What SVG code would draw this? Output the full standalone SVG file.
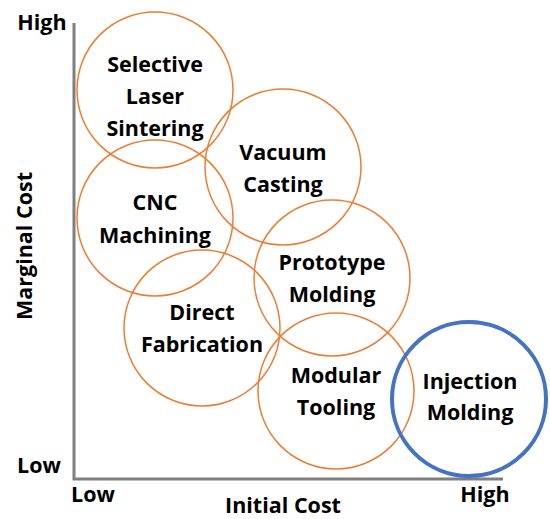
<svg xmlns="http://www.w3.org/2000/svg" width="550" height="519" viewBox="0 0 550 519">
  <style>
    .bubble { fill: none; stroke: #ED7D31; stroke-width: 1.5; }
    .bubble.hl { stroke: #4472C4; stroke-width: 4; }
    .lbl { font-family: "Open Sans", "Liberation Sans", sans-serif; font-weight: bold; font-size: 21.5px; fill: #000; text-anchor: middle; }
    .axis { stroke: #7F7F7F; stroke-width: 3; fill: none; }
  </style>
  <rect width="550" height="519" fill="#fff"/>

  <!-- axes -->
  <g id="connectors">
    <path class="axis" d="M74 23 V479 H503"/>
  </g>

  <g id="axis-labels">
    <text class="lbl" x="42" y="30">High</text>
    <text class="lbl" x="39" y="473">Low</text>
    <text class="lbl" x="93" y="502">Low</text>
    <text class="lbl" x="485" y="502">High</text>
    <text class="lbl" x="283" y="513">Initial Cost</text>
    <text class="lbl" transform="translate(32 246) rotate(-90)">Marginal Cost</text>
  </g>

  <g id="sls">
    <circle class="bubble" cx="155" cy="90" r="78"/>
    <text class="lbl" x="155" y="72">Selective</text>
    <text class="lbl" x="155" y="104">Laser</text>
    <text class="lbl" x="155" y="136">Sintering</text>
  </g>
  <g id="vacuum">
    <circle class="bubble" cx="283" cy="167" r="78"/>
    <text class="lbl" x="283" y="160">Vacuum</text>
    <text class="lbl" x="283" y="192">Casting</text>
  </g>
  <g id="cnc">
    <circle class="bubble" cx="155" cy="218" r="78"/>
    <text class="lbl" x="155" y="210">CNC</text>
    <text class="lbl" x="155" y="243">Machining</text>
  </g>
  <g id="prototype">
    <circle class="bubble" cx="332" cy="278" r="78"/>
    <text class="lbl" x="332" y="270">Prototype</text>
    <text class="lbl" x="332" y="302">Molding</text>
  </g>
  <g id="direct">
    <circle class="bubble" cx="202" cy="328" r="78"/>
    <text class="lbl" x="202" y="320">Direct</text>
    <text class="lbl" x="202" y="352">Fabrication</text>
  </g>
  <g id="modular">
    <circle class="bubble" cx="336" cy="391" r="78"/>
    <text class="lbl" x="336" y="383">Modular</text>
    <text class="lbl" x="336" y="415">Tooling</text>
  </g>
  <g id="injection">
    <circle class="bubble hl" cx="469" cy="399" r="77"/>
    <text class="lbl" x="470" y="389">Injection</text>
    <text class="lbl" x="470" y="420">Molding</text>
  </g>
</svg>
